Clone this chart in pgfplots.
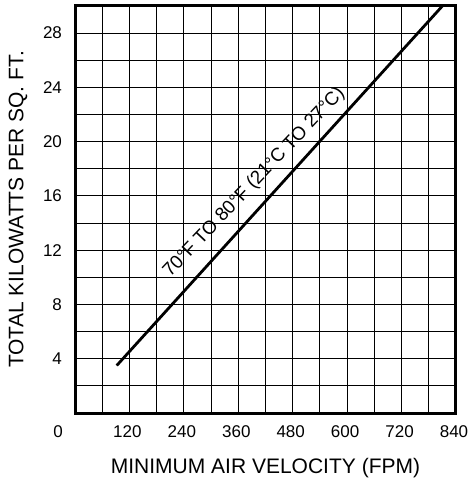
\documentclass[border=0pt]{standalone}
\usepackage{pgfplots}
\pgfplotsset{compat=1.18}
\usepackage{fontspec}
\setmainfont{Liberation Sans}

\begin{document}
\begin{tikzpicture}
\begin{axis}[
  name=ax,
  width=190.5pt, height=203.5pt, scale only axis,
  xmin=0, xmax=840, ymin=0, ymax=30,
  xtick={120,240,...,840}, minor xtick={60,180,...,780},
  ytick={4,8,...,28}, minor ytick={2,6,...,30},
  grid=both,
  major grid style={black, line width=0.45pt},
  minor grid style={black, line width=0.45pt},
  major tick length=0pt, minor tick length=0pt,
  axis line style={black, line width=1.5pt},
  tick label style={font=\fontsize{8.5}{10}\selectfont},
  label style={font=\fontsize{10.5}{12}\selectfont},
  xticklabel style={yshift=-3pt, xshift=-1pt},
  yticklabel style={xshift=-3pt},
  xlabel={MINIMUM AIR VELOCITY (FPM)},
  ylabel={TOTAL KILOWATTS PER SQ.\ FT.},
  xlabel style={yshift=-3pt},
  ylabel style={yshift=1pt},
  /pgf/number format/assume math mode=true,
  /pgf/number format/1000 sep={},
  clip=false,
]
% temperature band line
\addplot[black, line width=1.4pt]
  coordinates {(92,3.5) (810,30)};
\node[font=\fontsize{9.4}{11}\selectfont, rotate=46.5, anchor=base]
  at (axis cs:403,16.75) {70°F TO 80°F (21°C TO 27°C)};
\node[font=\fontsize{8.5}{10}\selectfont]
  at (rel axis cs:0,0) [xshift=-8.5pt, yshift=-9.5pt] {0};
\end{axis}
\pgfresetboundingbox
\useasboundingbox ([xshift=-37.5pt,yshift=-33.5pt]ax.south west)
  rectangle ([xshift=6.8pt,yshift=3pt]ax.north east);
\end{tikzpicture}
\end{document}
